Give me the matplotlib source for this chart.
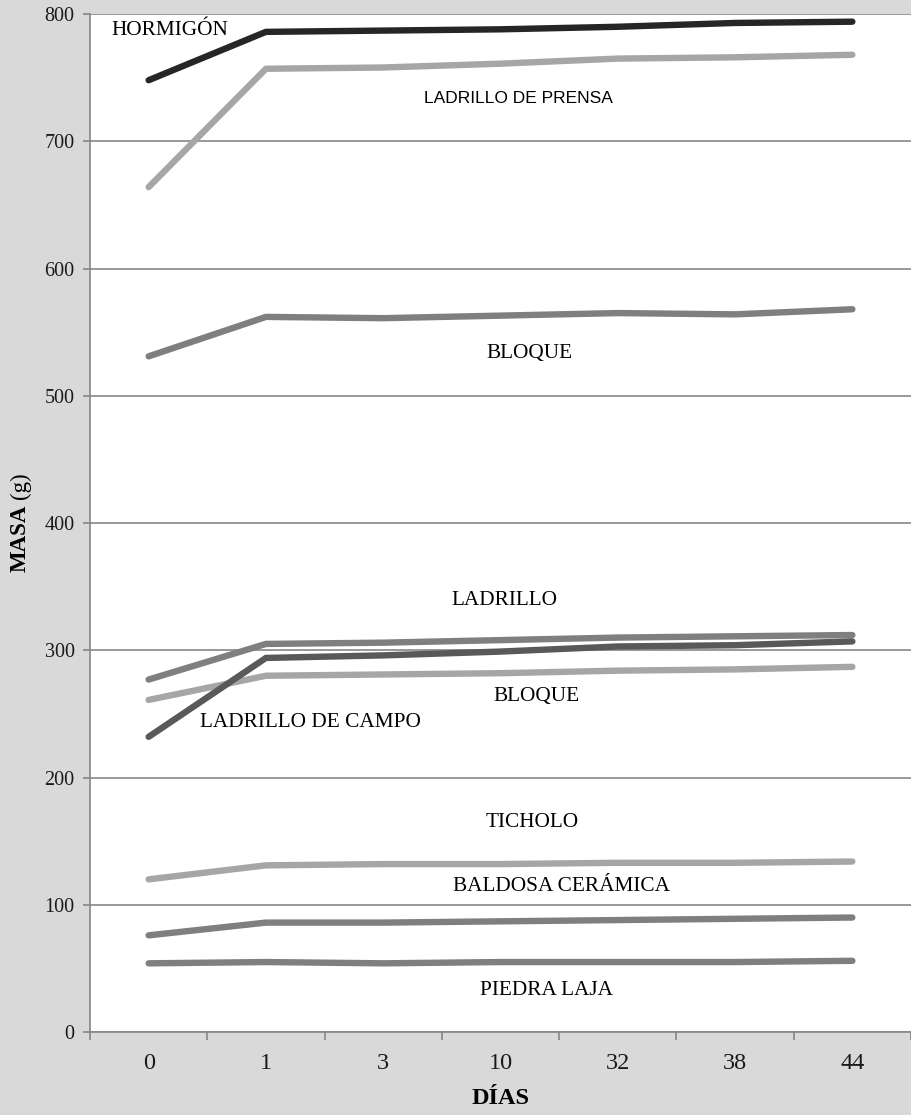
import numpy as np
import matplotlib
matplotlib.use("Agg")
import matplotlib.pyplot as plt
from matplotlib.ticker import FixedLocator, MultipleLocator

# Data
dias = ["0", "1", "3", "10", "32", "38", "44"]

hormigon = [748, 786, 787, 788, 790, 793, 794]
ladrillo_prensa = [664, 757, 758, 761, 765, 766, 768]
bloque_alto = [531, 562, 561, 563, 565, 564, 568]
ladrillo = [277, 305, 306, 308, 310, 311, 312]
ladrillo_campo = [232, 294, 296, 299, 303, 304, 307]
bloque_bajo = [261, 280, 281, 282, 284, 285, 287]
ticholo = [120, 131, 132, 132, 133, 133, 134]
baldosa = [76, 86, 86, 87, 88, 89, 90]
piedra_laja = [54, 55, 54, 55, 55, 55, 56]

series = [
    (hormigon, "#262626"),
    (ladrillo_prensa, "#a6a6a6"),
    (bloque_alto, "#7f7f7f"),
    (ladrillo, "#7f7f7f"),
    (bloque_bajo, "#a6a6a6"),
    (ladrillo_campo, "#595959"),
    (ticholo, "#a6a6a6"),
    (baldosa, "#7f7f7f"),
    (piedra_laja, "#7f7f7f"),
]

# label text, x, y, alignment, font
labels = [
    ("HORMIGÓN", -0.32, 787, "left", "serif"),
    ("LADRILLO DE PRENSA", 3.15, 734, "center", "sans"),
    ("BLOQUE", 3.25, 533, "center", "serif"),
    ("LADRILLO", 3.03, 339, "center", "serif"),
    ("BLOQUE", 3.31, 264, "center", "serif"),
    ("LADRILLO DE CAMPO", 1.38, 243, "center", "serif"),
    ("TICHOLO", 3.27, 165, "center", "serif"),
    ("BALDOSA CERÁMICA", 3.52, 114, "center", "serif"),
    ("PIEDRA LAJA", 3.39, 33, "center", "serif"),
]

SERIF = ["Liberation Serif", "DejaVu Serif"]
SANS = ["Liberation Sans", "DejaVu Sans"]
GRID = "#868686"

fig = plt.figure(figsize=(9.11, 11.15), dpi=100, facecolor="#d9d9d9")
ax = fig.add_axes([0.0988, 0.0744, 0.9012, 0.913])
ax.set_facecolor("white")

x = np.arange(len(dias))
for vals, color in series:
    ax.plot(x, vals, color=color, linewidth=4.6, solid_capstyle="round",
            solid_joinstyle="round", zorder=3)

for text, lx, ly, ha, kind in labels:
    ax.text(lx, ly, text, ha=ha, va="center", fontsize=15.3 if kind == "serif" else 12.5,
            family=SERIF if kind == "serif" else SANS, color="black", zorder=4)

ax.set_xlim(-0.5, 6.5)
ax.set_ylim(0, 800)

ax.yaxis.set_major_locator(MultipleLocator(100))
ax.grid(axis="y", color=GRID, linewidth=1.2, zorder=1)
ax.set_axisbelow(True)

ax.set_xticks(x)
ax.set_xticklabels(dias)
ax.xaxis.set_minor_locator(FixedLocator(np.arange(-0.5, 7.0, 1.0)))
ax.tick_params(axis="x", which="major", length=0, pad=15)
ax.tick_params(axis="x", which="minor", length=6, width=1.2, color=GRID, direction="out")
ax.tick_params(axis="y", length=5, width=1.2, color=GRID, direction="out", pad=6)

for lab in ax.get_xticklabels():
    lab.set_family(SERIF)
    lab.set_fontsize(17.5)
    lab.set_color("#1a1a1a")
for lab in ax.get_yticklabels():
    lab.set_family(SERIF)
    lab.set_fontsize(14.5)
    lab.set_color("#1a1a1a")

for side in ["top", "right"]:
    ax.spines[side].set_visible(False)
for side in ["left", "bottom"]:
    ax.spines[side].set_color(GRID)
    ax.spines[side].set_linewidth(1.2)

# axis titles
fig.text(0.5 * (0.0988 + 1.0), 0.0152, "DÍAS", ha="center", va="center",
         fontsize=17.5, fontweight="bold", family=SERIF)
masa = fig.text(0.022, 0.487, "MASA", rotation=90, ha="center", va="bottom",
                fontsize=16.5, fontweight="bold", family=SERIF)
fig.canvas.draw()
bb = masa.get_window_extent(fig.canvas.get_renderer())
top = (bb.y1 + 6) / fig.bbox.height
fig.text(0.022, top, "(g)", rotation=90, ha="center", va="bottom",
         fontsize=16.5, family=SERIF)

fig.savefig("out.png", dpi=100, facecolor=fig.get_facecolor())
